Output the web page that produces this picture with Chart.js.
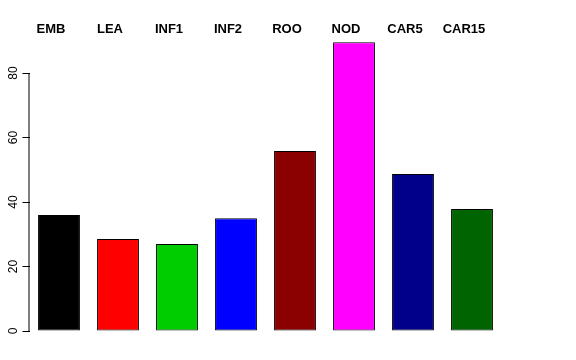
<!DOCTYPE html>
<html>
<head>
<meta charset="utf-8">
<script src="https://cdn.jsdelivr.net/npm/chart.js@4/dist/chart.umd.min.js"></script>
<style>
  html, body { margin: 0; padding: 0; background: #fff; }
  #wrap { width: 576px; height: 360px; }
</style>
</head>
<body>
<div id="wrap"><canvas id="c"></canvas></div>
<script>
// ---- data ----
const categories = ['EMB', 'LEA', 'INF1', 'INF2', 'ROO', 'NOD', 'CAR5', 'CAR15'];
const values = [36.0, 28.5, 27.0, 35.0, 55.8, 89.5, 48.7, 37.8];
const barColors = ['#000000', '#ff0000', '#00cd00', '#0000ff', '#8b0000', '#ff00ff', '#00008b', '#006400'];
const yTicks = [0, 20, 40, 60, 80];

// axis line only spans the tick range, like R's axis()
const axisLine = {
  id: 'axisLine',
  afterDraw(chart) {
    const y = chart.scales.y;
    const ctx = chart.ctx;
    ctx.save();
    ctx.strokeStyle = '#000';
    ctx.lineWidth = 1;
    ctx.beginPath();
    ctx.moveTo(y.right - 0.5, y.getPixelForValue(yTicks[0]));
    ctx.lineTo(y.right - 0.5, y.getPixelForValue(yTicks[yTicks.length - 1]));
    ctx.stroke();
    ctx.restore();
  }
};

new Chart(document.getElementById('c'), {
  type: 'bar',
  data: {
    labels: categories,
    datasets: [{
      data: values,
      backgroundColor: barColors,
      borderColor: '#000',
      borderWidth: 1,
      borderSkipped: false,
      categoryPercentage: 1,
      barPercentage: 0.71
    }]
  },
  options: {
    responsive: true,
    maintainAspectRatio: false,
    animation: false,
    layout: { padding: { top: 0, right: 74.5, bottom: 29, left: 0 } },
    plugins: { legend: { display: false }, tooltip: { enabled: false } },
    scales: {
      x: {
        position: 'top',
        grid: { display: false },
        border: { display: false },
        ticks: {
          color: '#000',
          font: { family: 'Liberation Sans, Arial, sans-serif', size: 13, weight: 'bold' },
          labelOffset: -8,
          padding: -11,
          maxRotation: 0,
          autoSkip: false
        },
        afterFit: s => { s.height = 34.3; }
      },
      y: {
        min: 0,
        max: 92,
        border: { display: false },
        grid: { display: true, drawOnChartArea: false, drawTicks: true, tickLength: 7, color: '#000' },
        ticks: {
          stepSize: 20,
          color: '#000',
          font: { family: 'Liberation Sans, Arial, sans-serif', size: 12 },
          minRotation: 90,
          maxRotation: 90,
          crossAlign: 'center',
          padding: 2
        },
        afterBuildTicks: s => { s.ticks = yTicks.map(v => ({ value: v })); },
        afterFit: s => { s.width = 29.5; }
      }
    }
  },
  plugins: [axisLine]
});
</script>
</body>
</html>
